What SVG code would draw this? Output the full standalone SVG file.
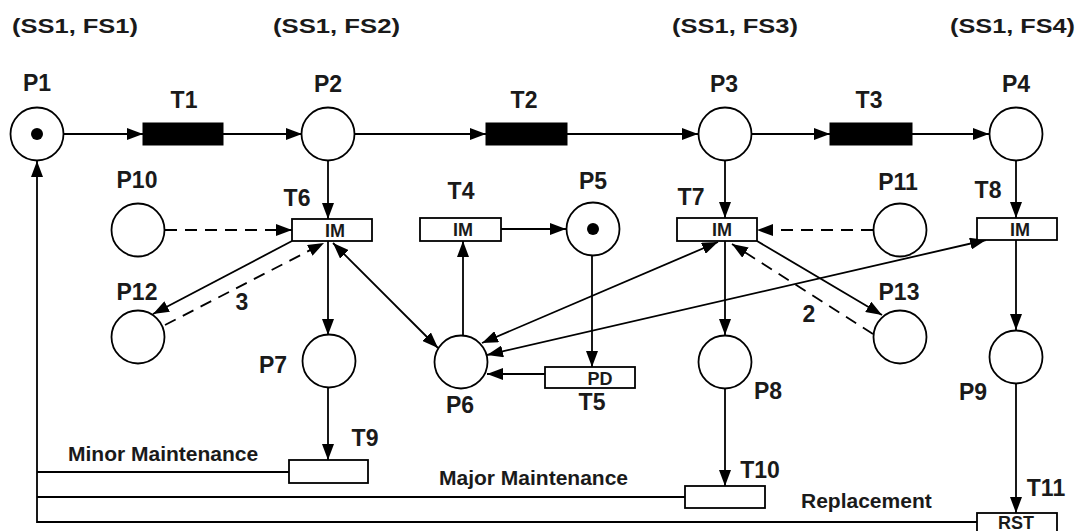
<svg xmlns="http://www.w3.org/2000/svg" width="1083" height="531" viewBox="0 0 1083 531">
<style>
  .pl { fill: #fff; stroke: #000; stroke-width: 1.8; }
  .tk { fill: #000; }
  .tb { fill: #000; stroke: #000; stroke-width: 1; }
  .tw { fill: #fff; stroke: #000; stroke-width: 1.8; }
  .ar { fill: none; stroke: #000; stroke-width: 1.8; }
  .ds { stroke-dasharray: 12 8; }
  text { font-family: "Liberation Sans", Arial, sans-serif; font-weight: bold; fill: #1a1a1a; }
  .lb { font-size: 23px; text-anchor: middle; }
  .hd { font-size: 21px; }
  .in { font-size: 18px; text-anchor: middle; }
  .lt { font-size: 21px; }
</style>
<defs>
  <marker id="ah" markerUnits="userSpaceOnUse" markerWidth="17" markerHeight="12" refX="16" refY="6" orient="auto-start-reverse">
    <path d="M0,0 L16,6 L0,12 z" fill="#000"/>
  </marker>
</defs>
<rect width="1083" height="531" fill="#fff"/>

<g id="headers">
  <text class="hd" x="12" y="33" textLength="126" lengthAdjust="spacingAndGlyphs">(SS1, FS1)</text>
  <text class="hd" x="273" y="33" textLength="127" lengthAdjust="spacingAndGlyphs">(SS1, FS2)</text>
  <text class="hd" x="672" y="33" textLength="126" lengthAdjust="spacingAndGlyphs">(SS1, FS3)</text>
  <text class="hd" x="950" y="33" textLength="125" lengthAdjust="spacingAndGlyphs">(SS1, FS4)</text>
</g>

<g id="connectors">
  <line class="ar" x1="63" y1="134" x2="143" y2="134" marker-end="url(#ah)"/>
  <line class="ar" x1="223" y1="134" x2="302" y2="134" marker-end="url(#ah)"/>
  <line class="ar" x1="355" y1="134" x2="486" y2="134" marker-end="url(#ah)"/>
  <line class="ar" x1="567" y1="134" x2="698" y2="134" marker-end="url(#ah)"/>
  <line class="ar" x1="752" y1="134" x2="830" y2="134" marker-end="url(#ah)"/>
  <line class="ar" x1="912" y1="134" x2="989" y2="134" marker-end="url(#ah)"/>
  <line class="ar" x1="328" y1="160" x2="328" y2="219" marker-end="url(#ah)"/>
  <line class="ar" x1="725" y1="161" x2="725" y2="218" marker-end="url(#ah)"/>
  <line class="ar" x1="1016" y1="160" x2="1016" y2="218" marker-end="url(#ah)"/>
  <line class="ar ds" x1="165" y1="230" x2="292" y2="230" marker-end="url(#ah)"/>
  <line class="ar ds" x1="873" y1="230" x2="757" y2="230" marker-end="url(#ah)"/>
  <line class="ar" x1="292" y1="241" x2="153" y2="314" marker-end="url(#ah)"/>
  <line class="ar ds" x1="165" y1="325" x2="324" y2="243" marker-end="url(#ah)"/>
  <line class="ar" x1="328" y1="241" x2="328" y2="335" marker-end="url(#ah)"/>
  <line class="ar" x1="333" y1="243" x2="438" y2="348" marker-start="url(#ah)" marker-end="url(#ah)"/>
  <line class="ar" x1="463" y1="335" x2="463" y2="241" marker-end="url(#ah)"/>
  <line class="ar" x1="501" y1="229" x2="566" y2="229" marker-end="url(#ah)"/>
  <line class="ar" x1="592" y1="255" x2="592" y2="367" marker-end="url(#ah)"/>
  <line class="ar" x1="545" y1="374" x2="487" y2="374" marker-end="url(#ah)"/>
  <line class="ar" x1="718" y1="242" x2="482" y2="343" marker-start="url(#ah)" marker-end="url(#ah)"/>
  <line class="ar" x1="986" y1="240" x2="487" y2="355" marker-start="url(#ah)" marker-end="url(#ah)"/>
  <line class="ar" x1="757" y1="241" x2="882" y2="315" marker-end="url(#ah)"/>
  <line class="ar ds" x1="873" y1="334" x2="732" y2="244" marker-end="url(#ah)"/>
  <line class="ar" x1="725" y1="241" x2="725" y2="335" marker-end="url(#ah)"/>
  <line class="ar" x1="1016" y1="240" x2="1016" y2="330" marker-end="url(#ah)"/>
  <line class="ar" x1="328" y1="388" x2="328" y2="460" marker-end="url(#ah)"/>
  <line class="ar" x1="725" y1="389" x2="725" y2="486" marker-end="url(#ah)"/>
  <line class="ar" x1="1016" y1="384" x2="1016" y2="513" marker-end="url(#ah)"/>
  <line class="ar" x1="289" y1="472" x2="37" y2="472"/>
  <line class="ar" x1="685" y1="497" x2="37" y2="497"/>
  <path class="ar" d="M977,522 H37 V161" marker-end="url(#ah)"/>
  <text class="lb" x="242" y="310">3</text>
  <text class="lb" x="809" y="322">2</text>
</g>

<g id="P1"><circle class="pl" cx="37" cy="134" r="26.5"/><circle class="tk" cx="37" cy="134" r="6"/><text class="lb" x="37" y="91">P1</text></g>
<g id="P2"><circle class="pl" cx="328" cy="134" r="26.5"/><text class="lb" x="328" y="92">P2</text></g>
<g id="P3"><circle class="pl" cx="725" cy="134" r="26.5"/><text class="lb" x="724" y="92">P3</text></g>
<g id="P4"><circle class="pl" cx="1016" cy="134" r="26.5"/><text class="lb" x="1016" y="92">P4</text></g>
<g id="P5"><circle class="pl" cx="593" cy="229" r="26.5"/><circle class="tk" cx="593" cy="229" r="6"/><text class="lb" x="593" y="189">P5</text></g>
<g id="P6"><circle class="pl" cx="461" cy="362" r="26.5"/><text class="lb" x="460" y="413">P6</text></g>
<g id="P7"><circle class="pl" cx="329" cy="361" r="26.5"/><text class="lb" x="273" y="373">P7</text></g>
<g id="P8"><circle class="pl" cx="725" cy="362" r="26.5"/><text class="lb" x="768" y="399">P8</text></g>
<g id="P9"><circle class="pl" cx="1016" cy="357" r="26.5"/><text class="lb" x="973" y="400">P9</text></g>
<g id="P10"><circle class="pl" cx="138" cy="230" r="26.5"/><text class="lb" x="137" y="188">P10</text></g>
<g id="P11"><circle class="pl" cx="900" cy="230" r="26.5"/><text class="lb" x="898" y="190">P11</text></g>
<g id="P12"><circle class="pl" cx="138" cy="337" r="26.5"/><text class="lb" x="137" y="300">P12</text></g>
<g id="P13"><circle class="pl" cx="900" cy="337" r="26.5"/><text class="lb" x="899" y="300">P13</text></g>

<g id="T1"><rect class="tb" x="143" y="123" width="80" height="22"/><text class="lb" x="184" y="108">T1</text></g>
<g id="T2"><rect class="tb" x="486" y="123" width="81" height="22"/><text class="lb" x="524" y="108">T2</text></g>
<g id="T3"><rect class="tb" x="830" y="123" width="82" height="22"/><text class="lb" x="869" y="108">T3</text></g>
<g id="T4"><rect class="tw" x="420" y="218" width="81" height="23"/><text class="in" x="463" y="236">IM</text><text class="lb" x="461" y="199">T4</text></g>
<g id="T5"><rect class="tw" x="545" y="367" width="90" height="21"/><text class="in" x="600" y="385">PD</text><text class="lb" x="592" y="410">T5</text></g>
<g id="T6"><rect class="tw" x="292" y="219" width="80" height="22"/><text class="in" x="335" y="237">IM</text><text class="lb" x="297" y="206">T6</text></g>
<g id="T7"><rect class="tw" x="677" y="218" width="80" height="23"/><text class="in" x="722" y="236">IM</text><text class="lb" x="691" y="205">T7</text></g>
<g id="T8"><rect class="tw" x="977" y="218" width="80" height="22"/><text class="in" x="1020" y="236">IM</text><text class="lb" x="988" y="198">T8</text></g>
<g id="T9"><rect class="tw" x="289" y="460" width="79" height="23"/><text class="lb" x="365" y="446">T9</text></g>
<g id="T10"><rect class="tw" x="685" y="486" width="80" height="22"/><text class="lb" x="760" y="478">T10</text></g>
<g id="T11"><rect class="tw" x="977" y="513" width="80" height="19"/><text class="in" x="1016" y="529">RST</text><text class="lb" x="1046" y="496">T11</text></g>

<g id="labels">
  <text class="lt" x="68" y="461">Minor Maintenance</text>
  <text class="lt" x="439" y="485">Major Maintenance</text>
  <text class="lt" x="801" y="508">Replacement</text>
</g>
</svg>
